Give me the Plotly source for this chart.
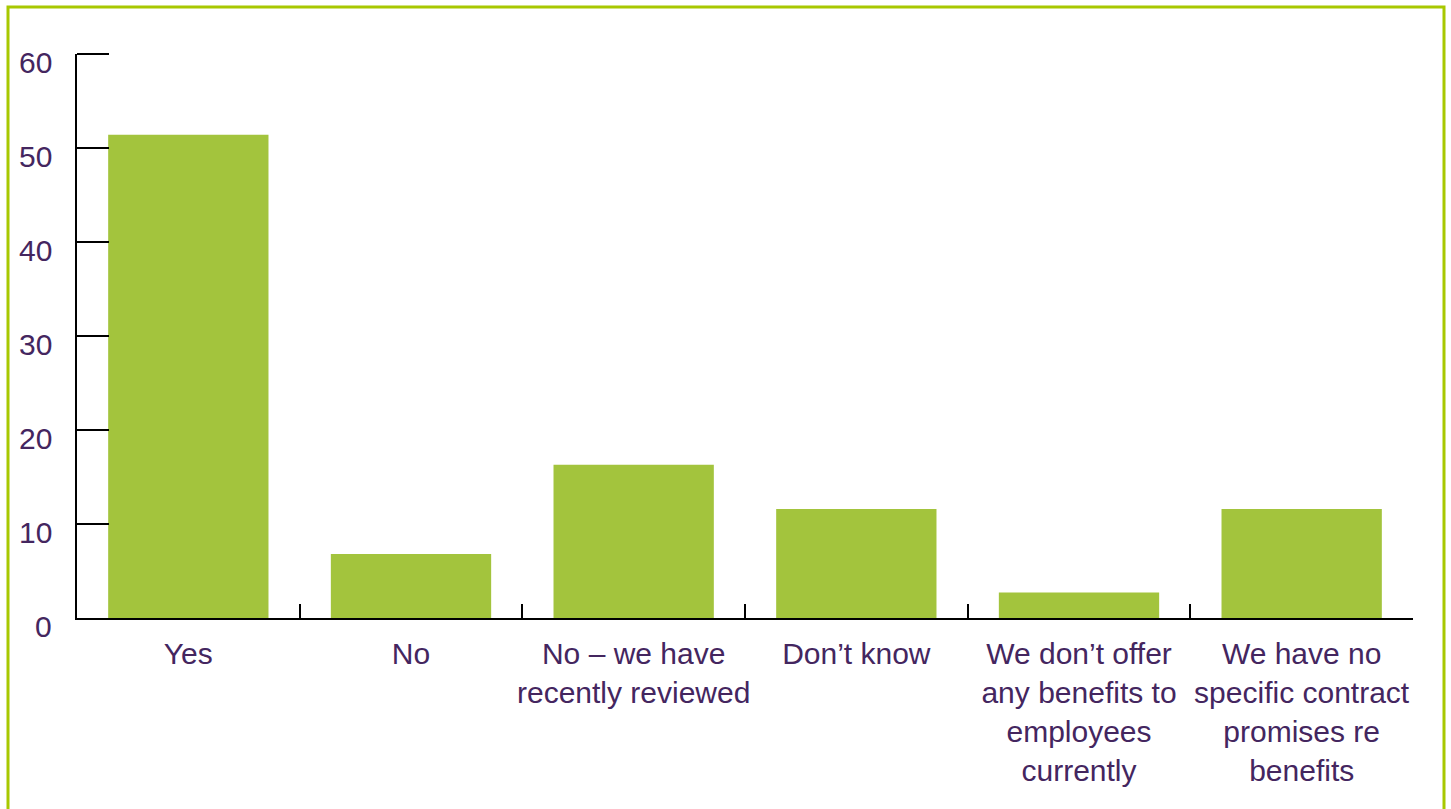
import plotly.graph_objects as go

# Survey responses (percent of respondents)
categories = [
    "Yes",
    "No",
    "No – we have<br>recently reviewed",
    "Don’t know",
    "We don’t offer<br>any benefits to<br>employees<br>currently",
    "We have no<br>specific contract<br>promises re<br>benefits",
]
values = [51.4, 6.8, 16.3, 11.6, 2.7, 11.6]
y_ticks = [0, 10, 20, 30, 40, 50, 60]

BAR_GREEN = "#a3c43d"
FRAME_GREEN = "#a8c800"
TEXT_PURPLE = "#44265f"
FONT = "Liberation Sans, Arial, Helvetica, sans-serif"

W, H = 1451, 809
L, R, T, B = 77, 38, 54, 191
plot_w = W - L - R
plot_h = H - T - B
Y_TICKLEN = 32

fig = go.Figure(
    go.Bar(
        x=categories,
        y=values,
        marker=dict(color=BAR_GREEN, line=dict(width=0)),
        width=0.72,
        hoverinfo="x+y",
    )
)

# y-axis labels sit slightly below their tick marks
annotations = [
    dict(
        x=0, xref="paper", y=v, yref="y",
        text=str(v), showarrow=False,
        xanchor="right", yanchor="middle",
        xshift=-23, yshift=-8,
        font=dict(family=FONT, size=30, color=TEXT_PURPLE),
    )
    for v in y_ticks
]

def px_to_paper_x(px):
    return (px - L) / plot_w

def px_to_paper_y(py):
    return (H - B - py) / plot_h

# outer green frame (left, top, right edges)
frame = dict(
    type="rect", xref="paper", yref="paper",
    x0=px_to_paper_x(8), x1=px_to_paper_x(1444),
    y0=px_to_paper_y(830), y1=px_to_paper_y(7),
    line=dict(color=FRAME_GREEN, width=3),
    fillcolor="rgba(0,0,0,0)", layer="below",
)

# tick at the top of the value axis (edge of the range, y = 60)
top_tick = dict(
    type="line", xref="paper", yref="paper",
    x0=0, x1=Y_TICKLEN / plot_w, y0=1, y1=1,
    line=dict(color="black", width=2),
)

fig.update_layout(
    width=W, height=H,
    margin=dict(l=L, r=R, t=T, b=B, pad=0, autoexpand=False),
    paper_bgcolor="white",
    plot_bgcolor="white",
    showlegend=False,
    bargap=0.28,
    font=dict(family=FONT, size=30, color=TEXT_PURPLE),
    annotations=annotations,
    shapes=[frame, top_tick],
    xaxis=dict(
        type="category",
        tickson="boundaries",
        ticks="inside",
        ticklen=14,
        tickwidth=2,
        tickcolor="black",
        showline=True,
        linecolor="black",
        linewidth=2,
        showgrid=False,
        zeroline=False,
        tickangle=0,
        automargin=False,
        tickfont=dict(family=FONT, size=30, color=TEXT_PURPLE),
        ticklabelstandoff=8,
        fixedrange=True,
    ),
    yaxis=dict(
        range=[0, 60],
        tickvals=y_ticks,
        ticks="inside",
        ticklen=Y_TICKLEN,
        tickwidth=2,
        tickcolor="black",
        showline=True,
        linecolor="black",
        linewidth=2,
        showgrid=False,
        zeroline=False,
        showticklabels=False,
        automargin=False,
        fixedrange=True,
    ),
)

fig.write_html("out.html")
